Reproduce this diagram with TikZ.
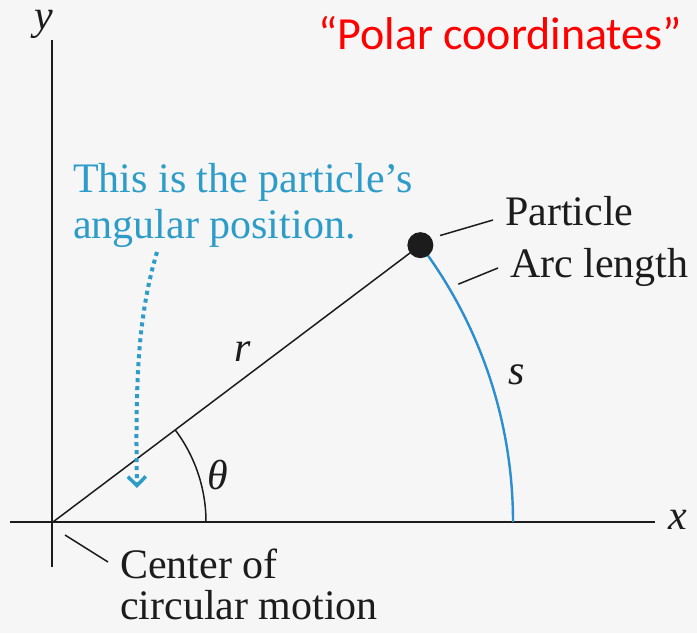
\documentclass[tikz,border=0pt]{standalone}
\usepackage{fontspec}
\setmainfont{Liberation Serif}
\newfontfamily\titlefont{Carlito}
\usetikzlibrary{arrows.meta,positioning,calc}
\definecolor{ink}{HTML}{1C1C1C}
\definecolor{arcblue}{HTML}{2A8ED0}
\definecolor{noteblue}{HTML}{2E9CC8}
\definecolor{paper}{HTML}{F6F6F6}
\definecolor{titlered}{HTML}{FF0000}
\tikzset{axis/.style={draw=ink,line width=2.4pt},lbl/.style={font=\fontsize{42}{46}\selectfont,text=ink,inner sep=0pt},lead/.style={draw=ink,line width=1.5pt},sym/.style={font=\fontsize{42}{46}\selectfont\itshape,text=ink,inner sep=0pt}}
\begin{document}
\begin{tikzpicture}[x=1pt,y=1pt]
\fill[paper] (0,0) rectangle (697,633);
\useasboundingbox (0,0) rectangle (697,633);
% axes
\coordinate (O) at (53,111);
\draw[axis] (52,66) -- (52,593);
\draw[axis] (10,111) -- (655,111);
\node[sym,anchor=base] (ylbl) at (44,603) {y};
\node[sym] (xlbl) at (678,113) {x};
% radius, arc and angle
\coordinate (P) at ($(O)+(37:460)$);
\coordinate (S) at ($(O)+(460,0)$);
\draw[ink,line width=1.5pt] (O) -- (P);
\draw[arcblue,line width=2.4pt] (S) arc[start angle=0,end angle=37,radius=460];
\draw[ink,line width=1.5pt] ($(O)+(153,0)$) arc[start angle=0,end angle=37,radius=153];
\node[circle,fill=ink,minimum size=26pt,inner sep=0pt] (part) at (P) {};
\node[sym] (rlbl) at (243,281) {r};
\node[sym] (thlbl) at (218,158) {θ};
\node[sym] (slbl) at (517,258) {s};
% labels
\node[lbl,anchor=base west] (ptxt) at (505,407) {Particle};
\node[lbl,anchor=base west] (atxt) at (510,355) {Arc length};
\coordinate (afoot) at ($(O)+(30.4:470)$);
\draw[lead] ($(part.center)+(26:22)$) -- ([shift={(-12,6)}]ptxt.base west);
\draw[lead] (afoot) -- ([shift={(-12,10)}]atxt.base west);
\node[lbl,font=\fontsize{42}{41}\selectfont,anchor=north west,align=left] (ctxt) at (120,84) {Center of\\circular motion};
\draw[lead] ($(O)+(12,-13)$) -- ([shift={(-12,-13)}]ctxt.north west);
% note
\node[lbl,text=noteblue,anchor=north west,align=left] (note) at (73,470) {This is the particle’s\\angular position.};
\coordinate (tip) at (137,145);
\draw[noteblue,line width=4pt,dash pattern=on 4pt off 4pt,-{Straight Barb[length=9pt,width=18pt,line width=3.5pt]}] (157,381) .. controls (139,320) and (135,260) .. (tip);
\node[font=\titlefont\fontsize{46}{50}\selectfont,text=titlered,anchor=base west,inner sep=0pt] (title) at (318,583) {“Polar coordinates”};
\end{tikzpicture}
\end{document}
